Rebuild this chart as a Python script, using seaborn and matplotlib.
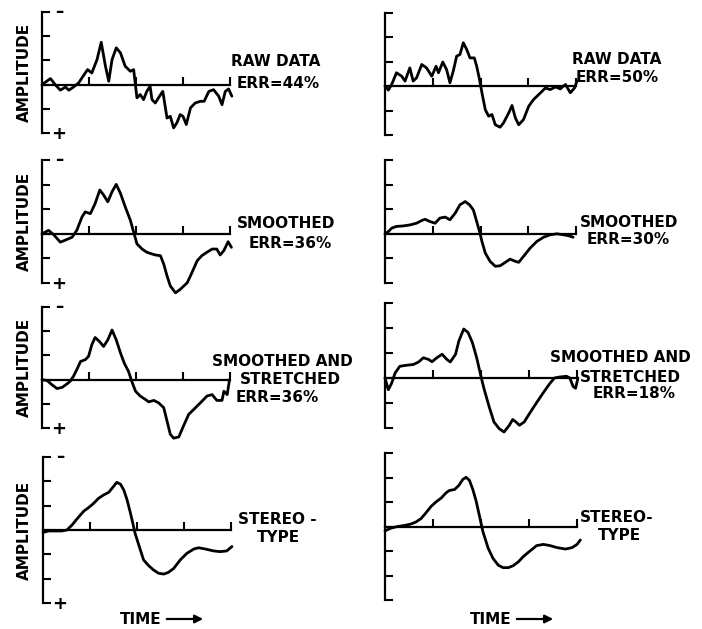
import matplotlib
matplotlib.use("Agg")
import matplotlib.pyplot as plt
import pandas as pd
import seaborn as sns

# ---------------- data (time units 0..4, amplitude units) ----------------
raw_left_t = [0, 0.18, 0.28, 0.39, 0.50, 0.57, 0.67, 0.78, 0.85, 0.97, 1.06, 1.17, 1.26, 1.35, 1.42,
              1.49, 1.58, 1.67, 1.77, 1.88, 1.95, 2.02, 2.09, 2.16, 2.23, 2.30, 2.34, 2.41, 2.50,
              2.57, 2.66, 2.73, 2.80, 2.87, 2.94, 3.00, 3.07, 3.16, 3.26, 3.37, 3.45, 3.55, 3.65,
              3.76, 3.83, 3.90, 3.97, 4.04]
raw_left_v = [0, 0.25, 0, -0.23, -0.10, -0.23, -0.10, 0.07, 0.28, 0.62, 0.48, 1.03, 1.75, 0.76, 0.14,
              1.03, 1.52, 1.31, 0.76, 0.55, 0.62, -0.55, -0.41, -0.62, -0.28, -0.07, -0.62, -0.76, -0.48,
              -0.28, -1.38, -1.31, -1.79, -1.58, -1.24, -1.31, -1.65, -0.96, -0.76, -0.69, -0.69, -0.28, -0.21,
              -0.48, -0.83, -0.28, -0.18, -0.48]

raw_right_t = [0, 0.07, 0.14, 0.24, 0.35, 0.42, 0.52, 0.59, 0.66, 0.77, 0.87, 0.98, 1.07, 1.12, 1.21,
               1.29, 1.36, 1.43, 1.50, 1.57, 1.64, 1.71, 1.78, 1.87, 1.92, 1.98, 2.03, 2.10, 2.17,
               2.24, 2.31, 2.41, 2.48, 2.59, 2.66, 2.73, 2.80, 2.90, 3.01, 3.11, 3.22, 3.29, 3.36,
               3.46, 3.57, 3.67, 3.78, 3.88, 3.97, 4.02]
raw_right_v = [0, -0.16, 0.07, 0.55, 0.41, 0.21, 0.75, 0.21, 0.34, 0.89, 0.75, 0.41, 0.82, 0.55, 0.99,
               0.68, 0.14, 0.62, 1.23, 1.30, 1.78, 1.51, 1.16, 1.16, 0.82, 0.27, -0.27, -0.96, -1.23,
               -1.16, -1.58, -1.68, -1.51, -1.10, -0.79, -1.30, -1.58, -1.37, -0.82, -0.55, -0.34, -0.21, -0.07,
               -0.14, -0.03, -0.11, 0.07, -0.27, -0.07, 0.21]

smooth_left_t = [0, 0.14, 0.25, 0.39, 0.53, 0.64, 0.74, 0.85, 0.92, 1.03, 1.13, 1.23, 1.31, 1.40, 1.49,
                 1.58, 1.67, 1.77, 1.88, 1.95, 2.02, 2.13, 2.23, 2.34, 2.41, 2.52, 2.59, 2.66, 2.73,
                 2.84, 2.94, 3.09, 3.19, 3.30, 3.40, 3.51, 3.62, 3.72, 3.79, 3.87, 3.96, 4.03]
smooth_left_v = [0, 0.14, -0.04, -0.34, -0.23, -0.14, 0.14, 0.68, 0.89, 0.82, 1.23, 1.78, 1.58, 1.30, 1.71,
                 2.01, 1.64, 1.10, 0.55, 0.07, -0.41, -0.62, -0.75, -0.82, -0.86, -0.89, -1.23, -1.71, -2.12,
                 -2.40, -2.26, -1.99, -1.58, -1.10, -0.89, -0.75, -0.62, -0.62, -0.86, -0.68, -0.32, -0.55]

smooth_right_t = [0, 0.07, 0.14, 0.24, 0.38, 0.52, 0.66, 0.77, 0.84, 0.94, 1.05, 1.15, 1.26, 1.36, 1.47,
                  1.57, 1.68, 1.77, 1.85, 1.92, 1.98, 2.03, 2.10, 2.20, 2.31, 2.41, 2.52, 2.62, 2.73,
                  2.80, 2.90, 3.04, 3.18, 3.32, 3.46, 3.60, 3.74, 3.85, 3.94]
smooth_right_v = [0, 0.09, 0.23, 0.30, 0.32, 0.36, 0.43, 0.54, 0.59, 0.50, 0.43, 0.64, 0.68, 0.57, 0.84,
                  1.18, 1.31, 1.18, 0.97, 0.50, 0.09, -0.31, -0.78, -1.12, -1.32, -1.30, -1.16, -1.03, -1.12,
                  -1.16, -0.92, -0.58, -0.31, -0.14, -0.04, 0, -0.04, -0.08, -0.14]

stretch_left_t = [0, 0.11, 0.21, 0.32, 0.43, 0.53, 0.60, 0.67, 0.74, 0.82, 0.92, 0.99, 1.06, 1.13, 1.22,
                  1.31, 1.40, 1.49, 1.58, 1.67, 1.75, 1.84, 1.91, 1.99, 2.09, 2.20, 2.27, 2.38, 2.48,
                  2.59, 2.66, 2.73, 2.80, 2.91, 3.01, 3.12, 3.23, 3.37, 3.51, 3.62, 3.72, 3.83, 3.87,
                  3.94, 3.99]
stretch_left_v = [0, -0.04, -0.21, -0.37, -0.32, -0.18, -0.07, 0.14, 0.41, 0.75, 0.82, 0.96, 1.44, 1.74, 1.58,
                  1.37, 1.64, 2.05, 1.64, 1.10, 0.68, 0.34, -0.07, -0.48, -0.68, -0.82, -0.92, -0.86, -0.96,
                  -1.16, -1.71, -2.26, -2.42, -2.37, -1.92, -1.44, -1.23, -0.96, -0.68, -0.62, -0.86, -0.86, -0.48,
                  -0.62, 0]

stretch_right_t = [0, 0.07, 0.14, 0.21, 0.31, 0.45, 0.59, 0.70, 0.80, 0.91, 0.98, 1.08, 1.19, 1.29, 1.36,
                   1.47, 1.54, 1.64, 1.73, 1.82, 1.91, 1.99, 2.06, 2.17, 2.27, 2.38, 2.48, 2.59, 2.66,
                   2.73, 2.80, 2.90, 3.01, 3.15, 3.29, 3.43, 3.53, 3.64, 3.78, 3.85, 3.92, 3.97, 4.02]
stretch_right_v = [0, -0.47, -0.20, 0.20, 0.47, 0.51, 0.54, 0.64, 0.81, 0.74, 0.65, 0.81, 0.95, 0.74, 0.64,
                   0.95, 1.49, 1.96, 1.82, 1.42, 0.81, 0.14, -0.41, -1.15, -1.76, -2.03, -2.16, -1.89, -1.66,
                   -1.76, -1.89, -1.76, -1.42, -1.01, -0.61, -0.23, 0, 0.04, 0.07, 0, -0.34, -0.41, 0]

stereo_left_t = [0, 0.12, 0.26, 0.40, 0.51, 0.62, 0.72, 0.87, 0.97, 1.08, 1.18, 1.29, 1.40, 1.48, 1.57,
                 1.65, 1.72, 1.79, 1.87, 1.96, 2.06, 2.14, 2.25, 2.35, 2.46, 2.57, 2.67, 2.78, 2.92,
                 3.06, 3.21, 3.31, 3.45, 3.63, 3.77, 3.91, 4.02]
stereo_left_v = [-0.10, -0.04, -0.04, -0.04, 0, 0.21, 0.45, 0.78, 0.92, 1.10, 1.30, 1.44, 1.55, 1.74, 1.96,
                 1.88, 1.64, 1.23, 0.62, -0.14, -0.75, -1.23, -1.47, -1.64, -1.78, -1.81, -1.74, -1.58, -1.23,
                 -0.96, -0.78, -0.73, -0.78, -0.86, -0.89, -0.86, -0.68]

stereo_right_t = [0, 0.12, 0.26, 0.40, 0.54, 0.64, 0.75, 0.85, 0.96, 1.06, 1.17, 1.27, 1.34, 1.45, 1.54,
                  1.62, 1.69, 1.76, 1.83, 1.90, 1.97, 2.04, 2.15, 2.25, 2.36, 2.46, 2.57, 2.67, 2.78,
                  2.88, 3.02, 3.16, 3.30, 3.44, 3.58, 3.76, 3.90, 4.00, 4.07]
stereo_right_v = [-0.18, -0.07, 0, 0.04, 0.10, 0.18, 0.32, 0.55, 0.82, 1.00, 1.16, 1.37, 1.47, 1.51, 1.68,
                  1.92, 2.01, 1.88, 1.51, 1.03, 0.41, -0.21, -0.89, -1.30, -1.58, -1.68, -1.68, -1.60, -1.44,
                  -1.23, -1.00, -0.78, -0.73, -0.78, -0.86, -0.92, -0.86, -0.73, -0.55]

labels_raw_left = ["RAW DATA", "ERR=44%"]
labels_raw_right = ["RAW DATA", "ERR=50%"]
labels_smooth_left = ["SMOOTHED", "ERR=36%"]
labels_smooth_right = ["SMOOTHED", "ERR=30%"]
labels_stretch_left = ["SMOOTHED AND", "STRETCHED", "ERR=36%"]
labels_stretch_right = ["SMOOTHED AND", "STRETCHED", "ERR=18%"]
labels_stereo_left = ["STEREO -", "TYPE"]
labels_stereo_right = ["STEREO-", "TYPE"]
y_label = "AMPLITUDE"
x_label = "TIME"

# ---------------- layout (figure pixels) ----------------
W, H = 702, 629
sns.set_style("white")
plt.rcParams['font.family'] = ['DejaVu Sans']

fig = plt.figure(figsize=(W / 100, H / 100), dpi=100)
fig.patch.set_facecolor("white")


def px_axes(left, top, width, height):
    return fig.add_axes([left / W, 1 - (top + height) / H, width / W, height / H])


def ftext(x, y, s, **kw):
    kw.setdefault("fontweight", "bold")
    kw.setdefault("fontsize", 11)
    kw.setdefault("va", "center")
    kw.setdefault("ha", "left")
    fig.text(x / W, 1 - y / H, s, color="black", **kw)


panels = [
    # t, v, (left, top, width, height), ymin, texts [(s, x, y)], left column?
    (raw_left_t, raw_left_v, (42, 12, 188, 121), -2,
     [(labels_raw_left[0], 231, 61), (labels_raw_left[1], 237, 83)], True),
    (raw_right_t, raw_right_v, (385, 13, 191, 122), -2,
     [(labels_raw_right[0], 572, 60), (labels_raw_right[1], 576, 78)], False),
    (smooth_left_t, smooth_left_v, (42, 160, 188, 123), -2,
     [(labels_smooth_left[0], 237, 223), (labels_smooth_left[1], 249, 243)], True),
    (smooth_right_t, smooth_right_v, (385, 160, 191, 123), -2,
     [(labels_smooth_right[0], 580, 222), (labels_smooth_right[1], 587, 239)], False),
    (stretch_left_t, stretch_left_v, (42, 307, 188, 121), -2,
     [(labels_stretch_left[0], 212, 362), (labels_stretch_left[1], 240, 379),
      (labels_stretch_left[2], 236, 397)], True),
    (stretch_right_t, stretch_right_v, (385, 303, 192, 125), -2,
     [(labels_stretch_right[0], 550, 358), (labels_stretch_right[1], 580, 377),
      (labels_stretch_right[2], 593, 393)], False),
    (stereo_left_t, stereo_left_v, (43, 457, 188, 146), -3,
     [(labels_stereo_left[0], 238, 519), (labels_stereo_left[1], 257, 538)], True),
    (stereo_right_t, stereo_right_v, (385, 453, 192, 147), -3,
     [(labels_stereo_right[0], 580, 517), (labels_stereo_right[1], 598, 535)], False),
]

for t, v, (l, tp, w, h), ymin, texts, is_left in panels:
    ax = px_axes(l, tp, w, h)
    ax.patch.set_alpha(0)
    df = pd.DataFrame({"t": t, "v": v})
    sns.lineplot(data=df, x="t", y="v", ax=ax, color="black", linewidth=2.0,
                 estimator=None, sort=False)
    for ln in ax.lines:
        ln.set_clip_on(False)
    ax.set_xlim(0, 4)
    ax.set_ylim(ymin, 3)
    ax.spines[["top", "right"]].set_visible(False)
    ax.spines["bottom"].set_position(("data", 0))
    ax.spines["bottom"].set_bounds(0, 4)
    for s in ("left", "bottom"):
        ax.spines[s].set_linewidth(1.6)
        ax.spines[s].set_color("black")
    ax.set_xticks([1, 2, 3, 4])
    ax.set_yticks(list(range(ymin, 4)))
    ax.tick_params(axis="both", which="major", direction="in", length=6, width=1.5,
                   color="black", bottom=True, left=True, top=False, right=False,
                   labelleft=False, labelbottom=False)
    ax.set_xlabel("")
    ax.set_ylabel("")
    for s, x, y in texts:
        ftext(x, y, s)
    if is_left:
        ftext(l + 17, tp, "–", ha="center", fontsize=12)
        ftext(l + 17, tp + h + 1, "+", ha="center", fontsize=13)
        ftext(24, tp + h * 0.5, y_label, rotation=90, ha="center", fontsize=11)

# time labels with arrows
for x0 in (120, 470):
    ftext(x0, 619, x_label, fontsize=11)
    ax.annotate("", xy=((x0 + 86) / W, 1 - 619 / H), xytext=((x0 + 44) / W, 1 - 619 / H),
                xycoords="figure fraction", textcoords="figure fraction",
                arrowprops=dict(arrowstyle="-|>", color="black", lw=1.6, mutation_scale=12),
                annotation_clip=False)

fig.savefig("out.png", dpi=100, facecolor="white")
